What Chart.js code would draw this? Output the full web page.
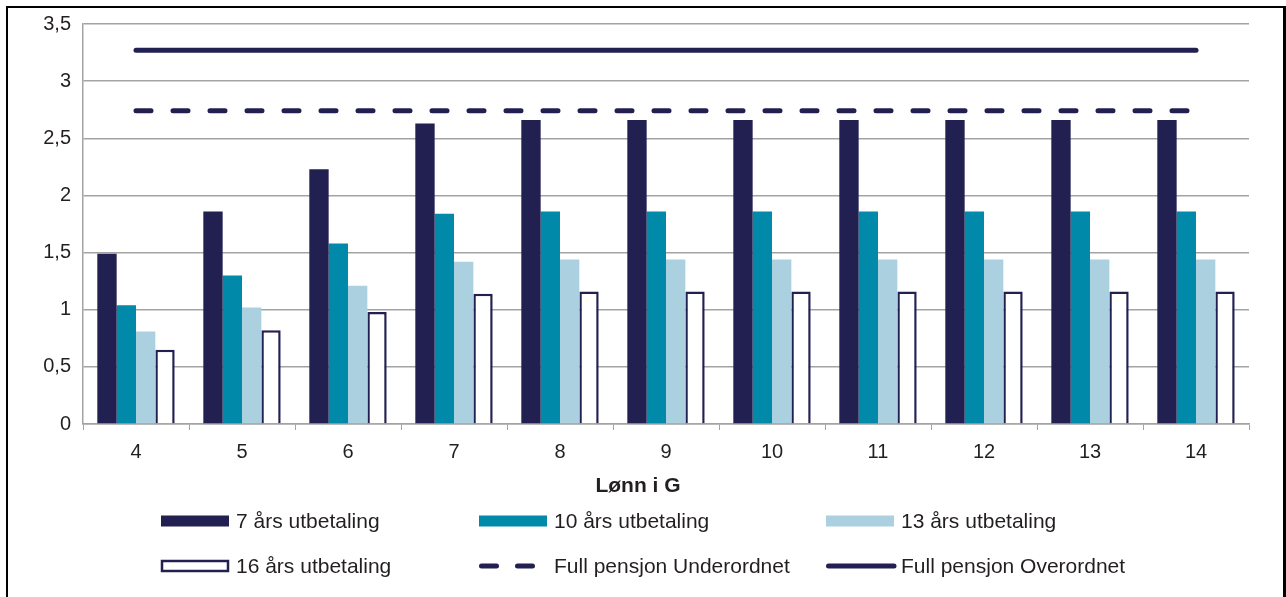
<!DOCTYPE html>
<html lang="no">
<head>
    <meta charset="UTF-8">
    <title>Utbetaling i forhold til lønn i G</title>
    <style>
        html, body {
            margin: 0;
            padding: 0;
            background: #fff;
            overflow: hidden;
        }
        .frame {
            position: absolute;
            left: 6px;
            top: 6px;
            width: 1280px;
            height: 700px;
            box-sizing: border-box;
            border: 2px solid #000;
            border-right-width: 3px;
        }
        .chart-box {
            position: absolute;
            left: 0;
            top: 0;
            width: 1286px;
            height: 597px;
        }
    </style>
</head>
<body>
    <div class="frame"></div>
    <div class="chart-box">
        <canvas id="pensjonChart" width="1286" height="597"></canvas>
    </div>

    <script src="https://cdn.jsdelivr.net/npm/chart.js"></script>
<script>
    // Lønn i G
    const categories = ['4', '5', '6', '7', '8', '9', '10', '11', '12', '13', '14'];

    // Utbetaling per år, etter utbetalingstid
    const utbetaling7 = [1.49, 1.86, 2.23, 2.63, 2.66, 2.66, 2.66, 2.66, 2.66, 2.66, 2.66];
    const utbetaling10 = [1.04, 1.30, 1.58, 1.84, 1.86, 1.86, 1.86, 1.86, 1.86, 1.86, 1.86];
    const utbetaling13 = [0.81, 1.02, 1.21, 1.42, 1.44, 1.44, 1.44, 1.44, 1.44, 1.44, 1.44];
    const utbetaling16 = [0.65, 0.82, 0.98, 1.14, 1.16, 1.16, 1.16, 1.16, 1.16, 1.16, 1.16];

    // Full pensjon
    const fullUnderordnet = [2.74, 2.74, 2.74, 2.74, 2.74, 2.74, 2.74, 2.74, 2.74, 2.74, 2.74];
    const fullOverordnet = [3.27, 3.27, 3.27, 3.27, 3.27, 3.27, 3.27, 3.27, 3.27, 3.27, 3.27];

    const yMax = 3.5;
    const yStep = 0.5;
    const xTitle = 'Lønn i G';

    const navy = '#221f51';
    const teal = '#0089a8';
    const lightBlue = '#abd0df';
    const gridGrey = '#a3a3a3';
    const textColor = '#231f20';
    const fontFamily = "'Liberation Sans', Arial, sans-serif";

    Chart.defaults.font.family = fontFamily;
    Chart.defaults.font.size = 20;
    Chart.defaults.color = textColor;

    // Axis title and a legend in three fixed columns, two rows
    const gridLegend = {
        id: 'gridLegend',
        afterDraw(chart) {
            const ctx = chart.ctx;
            ctx.save();
            ctx.fillStyle = textColor;
            ctx.font = 'bold 21px ' + fontFamily;
            ctx.textAlign = 'center';
            ctx.textBaseline = 'middle';
            ctx.fillText(xTitle, 638, 486);
            ctx.restore();

            const cols = [161, 479, 826];
            const rows = [521, 566];
            const sw = 68;
            chart.data.datasets.forEach((ds, i) => {
                const x = cols[i % 3];
                const y = rows[Math.floor(i / 3)];
                ctx.save();
                if (ds.type === 'line') {
                    ctx.strokeStyle = ds.borderColor;
                    ctx.lineWidth = 5;
                    ctx.lineCap = 'round';
                    ctx.setLineDash(ds.borderDash ? [15, 21] : []);
                    ctx.beginPath();
                    ctx.moveTo(x + 2.5, y);
                    ctx.lineTo(ds.borderDash ? x + 54 : x + sw, y);
                    ctx.stroke();
                } else if (ds.backgroundColor === '#ffffff') {
                    ctx.fillStyle = '#fff';
                    ctx.fillRect(x, y - 6, sw, 12);
                    ctx.strokeStyle = ds.borderColor;
                    ctx.lineWidth = 2.5;
                    ctx.strokeRect(x + 1, y - 5, sw - 2, 10);
                } else {
                    ctx.fillStyle = ds.backgroundColor;
                    ctx.fillRect(x, y - 5.5, sw, 11);
                }
                ctx.fillStyle = textColor;
                ctx.font = '21px ' + fontFamily;
                ctx.textBaseline = 'middle';
                ctx.textAlign = 'left';
                ctx.fillText(ds.label, x + 75, y + 1);
                ctx.restore();
            });
        }
    };

    const barStyle = { borderWidth: 0, categoryPercentage: 0.73, barPercentage: 1.0 };

    new Chart(document.getElementById('pensjonChart'), {
        type: 'bar',
        data: {
            labels: categories,
            datasets: [
                { label: '7 års utbetaling', data: utbetaling7, backgroundColor: navy, ...barStyle, order: 2 },
                { label: '10 års utbetaling', data: utbetaling10, backgroundColor: teal, ...barStyle, order: 2 },
                { label: '13 års utbetaling', data: utbetaling13, backgroundColor: lightBlue, ...barStyle, order: 2 },
                {
                    label: '16 års utbetaling', data: utbetaling16, backgroundColor: '#ffffff',
                    ...barStyle, borderWidth: 2.5, borderColor: navy, order: 2
                },
                {
                    type: 'line', label: 'Full pensjon Underordnet', data: fullUnderordnet,
                    borderColor: navy, borderWidth: 5, borderDash: [15, 22], borderCapStyle: 'round',
                    pointRadius: 0, fill: false, order: 1
                },
                {
                    type: 'line', label: 'Full pensjon Overordnet', data: fullOverordnet,
                    borderColor: navy, borderWidth: 5, borderCapStyle: 'round',
                    pointRadius: 0, fill: false, order: 1
                }
            ]
        },
        options: {
            responsive: false,
            animation: false,
            layout: { padding: { left: 0, top: 24, right: 37, bottom: 0 } },
            plugins: {
                legend: { display: false },
                tooltip: { enabled: false }
            },
            scales: {
                x: {
                    afterFit(scale) { scale.height = 173; },
                    grid: {
                        offset: true,
                        drawOnChartArea: false,
                        drawTicks: true,
                        tickLength: 6,
                        color: gridGrey
                    },
                    border: { color: gridGrey, width: 1.5 },
                    ticks: { padding: 10, color: textColor }
                },
                y: {
                    min: 0,
                    max: yMax,
                    afterFit(scale) { scale.width = 83; },
                    grid: { drawTicks: false, color: gridGrey, lineWidth: 1.5 },
                    border: { color: gridGrey, width: 1.5 },
                    ticks: {
                        stepSize: yStep,
                        padding: 12,
                        color: textColor,
                        callback: v => String(v).replace('.', ',')
                    }
                }
            }
        },
        plugins: [gridLegend]
    });
</script>
</body>
</html>
